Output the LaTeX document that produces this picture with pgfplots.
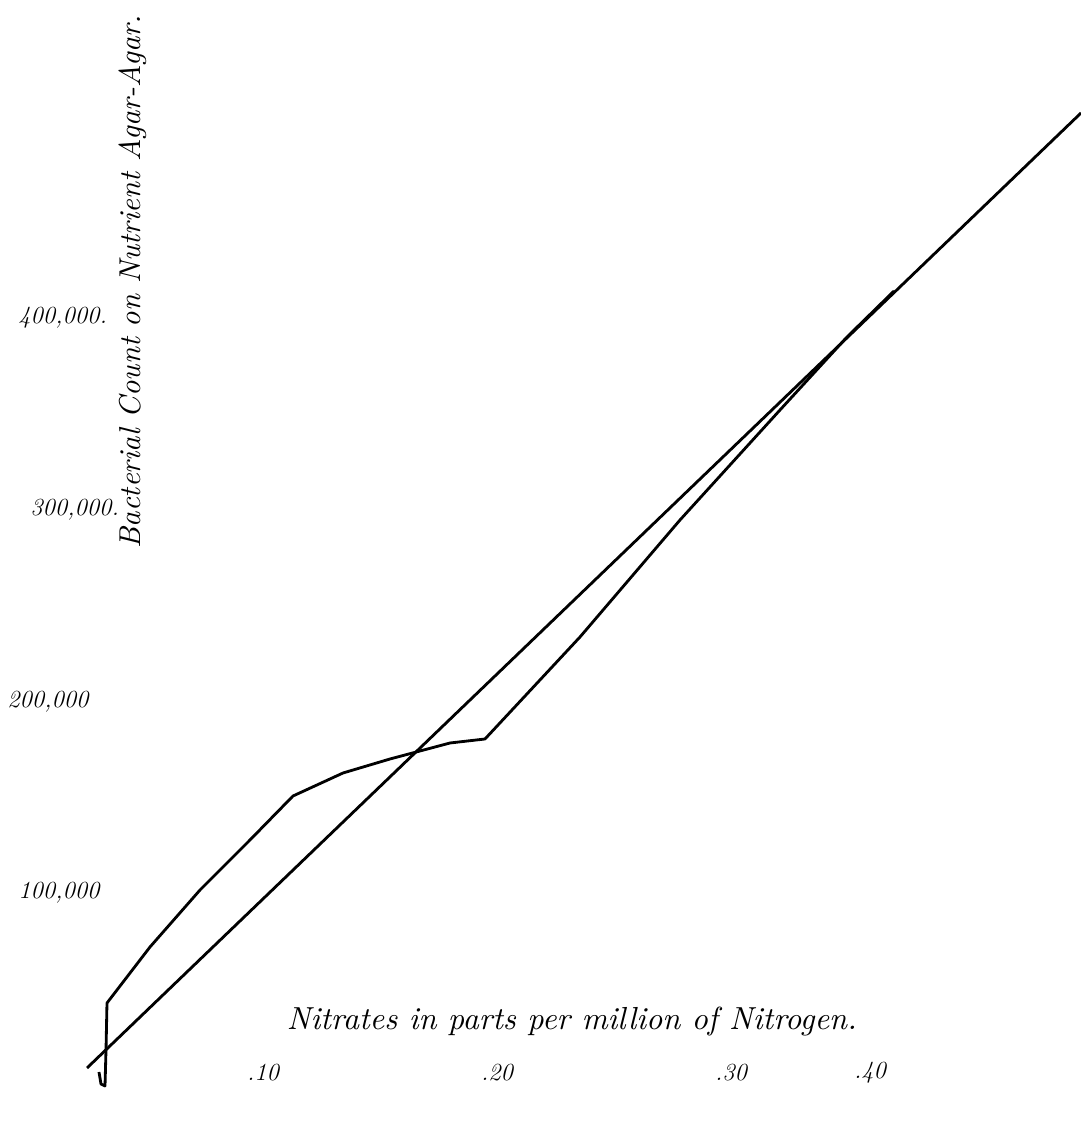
\documentclass[border=0pt]{standalone}
\usepackage{pgfplots}
\pgfplotsset{compat=1.18}

% hand drawn chart: no frame, labels placed inside the drawing area
\begin{document}
\begin{tikzpicture}
\begin{axis}[%
width=216.2mm,
height=224.2mm,
scale only axis,
xmin=-0.012393, xmax=0.449573,
ymin=-18939, ymax=565917,
axis line style={draw=none},
major tick length=0pt,
xtick={0.1,0.2,0.3,0.3594},
xticklabels={.10,.20,.30,.40},
xticklabel style={anchor=center, yshift=9.6mm, inner sep=0pt,
  font=\fontsize{14}{16}\selectfont\itshape},
ytick={100000,200000,300000,400000},
yticklabels={{\hspace*{2.2mm}100,000},{200,000},{\hspace*{4.6mm}300,000.},{\hspace*{2.2mm}400,000.}},
yticklabel style={anchor=west, xshift=1.4mm, inner sep=0pt,
  font=\fontsize{14}{16}\selectfont\itshape},
scaled y ticks=false,
xlabel={\resizebox{114mm}{!}{\itshape Nitrates in parts per million of Nitrogen.}},
xlabel style={at={(axis description cs:0.529,0.0883)}, anchor=center, inner sep=0pt},
ylabel={\resizebox{106.6mm}{!}{\itshape Bacterial Count on Nutrient Agar-Agar.}},
ylabel style={at={(axis description cs:0.123,0.7484)}, anchor=center, inner sep=0pt},
clip=false
]
% straight line
\addplot[black, line width=1.6pt] table[row sep=crcr] {%
0.02479	8713\\
0.44957	506965\\
};
% observed counts
\addplot[black, line width=1.6pt, line join=round] table[row sep=crcr] {%
0.02991	6626\\
0.03077	365\\
0.03248	-678\\
0.03291	18104\\
0.03333	42625\\
0.05171	71842\\
0.07308	101581\\
0.09444	127667\\
0.11282	150623\\
0.13419	162623\\
0.15427	169928\\
0.16709	174101\\
0.17991	178275\\
0.19487	180362\\
0.23547	233579\\
0.27821	294621\\
0.32094	352011\\
0.34957	390098\\
0.36966	414097\\
};
\end{axis}
\pgfresetboundingbox
\useasboundingbox (current axis.south west) rectangle (current axis.north east);
\end{tikzpicture}
\end{document}
